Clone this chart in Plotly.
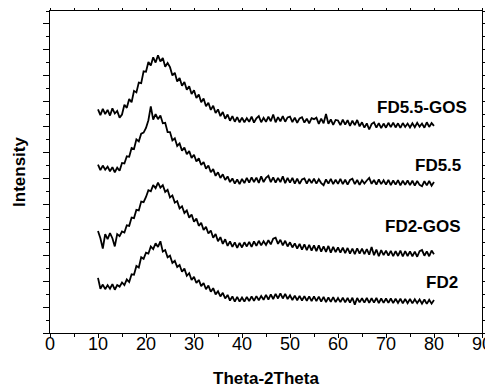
import numpy as np
import plotly.graph_objects as go

# 2-theta grid (0.5 degree steps, 10..80)
theta = np.arange(10, 80.01, 0.5)

fd55_gos = [
    8.68, 8.46, 8.70, 8.50, 8.66, 8.44, 8.72, 8.52, 8.62, 8.36,
    8.48, 8.86, 8.74, 9.08, 8.96, 9.40, 9.34, 9.72, 9.70, 10.16,
    10.14, 10.52, 10.38, 10.70, 10.50, 10.78, 10.54, 10.68, 10.34, 10.48,
    10.32, 10.00, 10.10, 9.76, 9.90, 9.60, 9.74, 9.44, 9.58, 9.28,
    9.42, 9.12, 9.26, 8.96, 9.10, 8.80, 8.94, 8.66, 8.82, 8.54,
    8.68, 8.42, 8.58, 8.32, 8.48, 8.24, 8.42, 8.20, 8.38, 8.18,
    8.36, 8.18, 8.34, 8.20, 8.40, 8.17, 8.33, 8.42, 8.18, 8.35,
    8.20, 8.40, 8.22, 8.48, 8.18, 8.38, 8.22, 8.42, 8.20, 8.37,
    8.40, 8.19, 8.36, 8.16, 8.33, 8.38, 8.17, 8.32, 8.14, 8.34,
    8.30, 8.36, 8.12, 8.32, 8.14, 8.50, 8.12, 8.29, 8.08, 8.27,
    8.25, 8.07, 8.28, 8.09, 8.26, 8.04, 8.24, 8.07, 8.27, 8.02,
    8.18, 7.97, 8.14, 7.90, 8.11, 8.18, 7.97, 8.15, 7.95, 8.13,
    7.97, 8.16, 7.99, 8.17, 7.98, 8.14, 7.96, 8.15, 8.00, 8.13,
    7.98, 8.14, 7.99, 8.16, 8.01, 8.13, 7.97, 8.18, 8.00, 8.15,
    8.04,
]

fd55 = [
    6.54, 6.32, 6.50, 6.34, 6.46, 6.28, 6.44, 6.24, 6.42, 6.30,
    6.60, 6.58, 6.86, 6.84, 7.18, 7.14, 7.52, 7.44, 7.74, 7.78,
    7.96, 8.26, 8.80, 8.28, 8.50, 8.30, 8.44, 8.14, 8.16, 7.80,
    7.80, 7.48, 7.56, 7.26, 7.36, 7.08, 7.20, 6.94, 7.06, 6.80,
    6.92, 6.66, 6.78, 6.52, 6.64, 6.38, 6.50, 6.24, 6.36, 6.10,
    6.24, 6.02, 6.16, 5.94, 6.08, 5.86, 6.00, 5.80, 5.96, 5.78,
    5.98, 5.82, 6.02, 5.84, 6.04, 5.86, 6.03, 5.83, 6.08, 5.86,
    6.02, 6.10, 5.86, 6.04, 5.84, 6.02, 5.86, 6.08, 5.82, 6.02,
    5.84, 6.02, 5.80, 5.99, 5.79, 5.96, 6.00, 5.80, 5.98, 5.82,
    5.99, 5.80, 5.97, 5.82, 5.74, 5.96, 5.80, 5.98, 5.78, 5.95,
    5.79, 5.98, 5.78, 5.95, 5.76, 5.94, 5.99, 5.78, 5.94, 5.75,
    5.93, 5.80, 5.92, 6.02, 5.79, 5.94, 5.76, 5.96, 5.78, 5.93,
    5.76, 5.94, 5.74, 5.92, 5.76, 5.93, 5.73, 5.91, 5.75, 5.92,
    5.74, 5.91, 5.72, 5.90, 5.75, 5.70, 5.89, 5.73, 5.90, 5.72,
    5.86,
]

fd2_gos = [
    3.96, 3.68, 3.28, 3.84, 3.64, 3.88, 3.68, 3.36, 3.84, 3.76,
    3.94, 3.90, 4.18, 4.16, 4.48, 4.46, 4.78, 4.76, 5.10, 5.08,
    5.28, 5.54, 5.50, 5.74, 5.62, 5.84, 5.64, 5.74, 5.48, 5.56,
    5.26, 5.34, 5.06, 5.12, 4.84, 4.92, 4.66, 4.76, 4.48, 4.60,
    4.32, 4.44, 4.16, 4.28, 4.00, 4.12, 3.86, 3.98, 3.70, 3.84,
    3.56, 3.72, 3.46, 3.64, 3.38, 3.56, 3.34, 3.52, 3.30, 3.50,
    3.32, 3.52, 3.36, 3.54, 3.34, 3.56, 3.38, 3.58, 3.40, 3.56,
    3.42, 3.60, 3.44, 3.66, 3.70, 3.46, 3.62, 3.40, 3.58, 3.36,
    3.52, 3.32, 3.48, 3.28, 3.46, 3.24, 3.44, 3.22, 3.42, 3.20,
    3.40, 3.18, 3.40, 3.16, 3.36, 3.15, 3.38, 3.12, 3.34, 3.14,
    3.32, 3.12, 3.31, 3.10, 3.30, 3.08, 3.28, 3.06, 3.29, 3.08,
    3.28, 3.06, 3.26, 3.04, 3.34, 3.02, 3.24, 2.98, 3.22, 3.02,
    3.20, 3.00, 3.19, 2.98, 3.18, 2.99, 3.20, 2.97, 3.18, 2.99,
    3.17, 2.98, 3.16, 2.96, 3.18, 3.22, 3.00, 3.17, 2.98, 3.20,
    3.06,
]

fd2 = [
    2.14, 1.72, 1.88, 1.70, 1.86, 1.72, 1.90, 1.68, 1.86, 1.80,
    1.96, 1.86, 2.08, 1.98, 2.28, 2.26, 2.60, 2.54, 2.94, 2.88,
    3.12, 3.08, 3.36, 3.26, 3.48, 3.34, 3.56, 3.16, 3.22, 2.94,
    3.00, 2.72, 2.80, 2.56, 2.64, 2.38, 2.50, 2.22, 2.32, 2.06,
    2.18, 1.94, 2.06, 1.82, 1.94, 1.70, 1.84, 1.60, 1.74, 1.50,
    1.62, 1.42, 1.56, 1.34, 1.48, 1.26, 1.42, 1.22, 1.40, 1.22,
    1.38, 1.22, 1.40, 1.24, 1.42, 1.25, 1.43, 1.27, 1.44, 1.29,
    1.48, 1.30, 1.50, 1.32, 1.52, 1.34, 1.54, 1.34, 1.52, 1.32,
    1.46, 1.28, 1.45, 1.27, 1.44, 1.26, 1.43, 1.25, 1.42, 1.24,
    1.42, 1.24, 1.41, 1.22, 1.40, 1.20, 1.38, 1.21, 1.39, 1.20,
    1.36, 1.20, 1.37, 1.19, 1.36, 1.18, 1.37, 1.10, 1.36, 1.19,
    1.35, 1.18, 1.36, 1.17, 1.35, 1.18, 1.36, 1.16, 1.34, 1.17,
    1.34, 1.17, 1.34, 1.16, 1.33, 1.17, 1.33, 1.15, 1.32, 1.16,
    1.32, 1.15, 1.31, 1.16, 1.30, 1.14, 1.30, 1.13, 1.29, 1.14,
    1.28,
]

series_names = ["FD5.5-GOS", "FD5.5", "FD2-GOS", "FD2"]
series_values = [fd55_gos, fd55, fd2_gos, fd2]
label_x = [87.3, 86.0, 86.0, 85.4]
label_y = [8.74, 6.51, 4.15, 1.98]

x_ticks = [0, 10, 20, 30, 40, 50, 60, 70, 80, 90]

fig = go.Figure()
for name, vals in zip(series_names, series_values):
    fig.add_trace(go.Scatter(x=theta, y=vals, mode="lines", name=name,
                             line=dict(color="black", width=1.8),
                             showlegend=False))

for name, lx, ly in zip(series_names, label_x, label_y):
    fig.add_annotation(x=lx, y=ly, text="<b>%s</b>" % name, showarrow=False,
                       xanchor="right", yanchor="middle",
                       font=dict(family="Liberation Sans, Arial", size=17, color="black"))

# x tick labels placed right under the tick marks, as in the reference
for t in x_ticks:
    fig.add_annotation(x=t, y=0, xref="x", yref="paper", text=str(t),
                       showarrow=False, xanchor="center", yanchor="top",
                       yshift=1,
                       font=dict(family="Liberation Sans, Arial", size=18, color="black"))

# page body has an 8px default margin; the figure is sized to fill the window
fig.update_layout(
    width=485, height=381,
    margin=dict(l=42, r=11, t=3, b=56),
    paper_bgcolor="white", plot_bgcolor="white",
    font=dict(family="Liberation Sans, Arial", color="black"),
)
fig.update_xaxes(
    range=[0, 90], tickvals=x_ticks, showticklabels=False,
    ticks="outside", ticklen=4, tickwidth=1, tickcolor="black",
    minor=dict(dtick=5, ticks="outside", ticklen=3, tickcolor="black", tick0=0),
    showline=True, linecolor="black", linewidth=1.2, mirror="ticks",
    showgrid=False, zeroline=False, automargin=False,
    title=dict(text="<b>Theta-2Theta</b>", font=dict(size=17), standoff=34),
)
fig.update_yaxes(
    range=[0, 12.5], dtick=1, tick0=0, showticklabels=False,
    ticks="outside", ticklen=6, tickwidth=1, tickcolor="black",
    minor=dict(dtick=0.5, ticks="outside", ticklen=3, tickcolor="black"),
    showline=True, linecolor="black", linewidth=1.2, mirror="ticks",
    showgrid=False, zeroline=False, automargin=False,
    title=dict(text="<b>Intensity</b>", font=dict(size=17), standoff=12),
)

fig.write_html("out.html")
